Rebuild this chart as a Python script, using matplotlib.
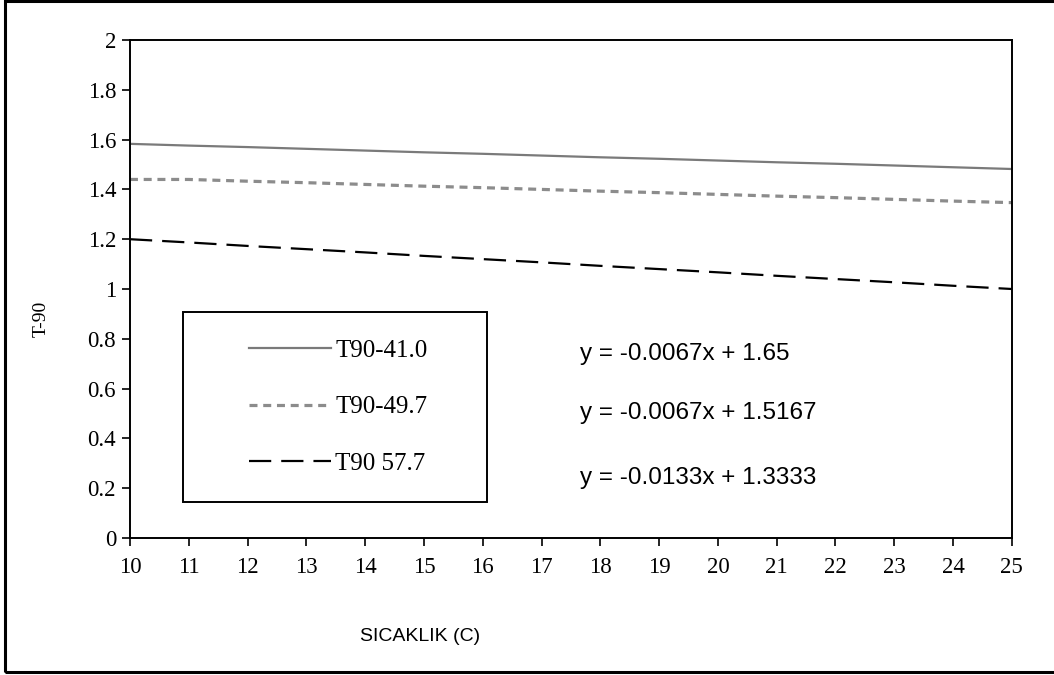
import numpy as np
import matplotlib
matplotlib.use("Agg")
import matplotlib.pyplot as plt
from matplotlib.patches import Rectangle

# temperature (C) and T-90 values
sicaklik = [10, 11, 12, 13, 14, 15, 16, 17, 18, 19, 20, 21, 22, 23, 24, 25]
t90_410 = [1.583, 1.576, 1.570, 1.563, 1.556, 1.549, 1.543, 1.536,
           1.529, 1.523, 1.516, 1.509, 1.503, 1.496, 1.489, 1.482]
t90_497 = [1.440, 1.440, 1.433, 1.427, 1.420, 1.413, 1.407, 1.400,
           1.393, 1.387, 1.380, 1.373, 1.367, 1.360, 1.353, 1.347]
t90_577 = [1.200, 1.187, 1.173, 1.160, 1.147, 1.133, 1.120, 1.107,
           1.093, 1.080, 1.067, 1.053, 1.040, 1.027, 1.013, 1.000]

labels = ["T90-41.0", "T90-49.7", "T90 57.7"]
equations = ["y = -0.0067x + 1.65", "y = -0.0067x + 1.5167", "y = -0.0133x + 1.3333"]
y_ticks = [0, 0.2, 0.4, 0.6, 0.8, 1, 1.2, 1.4, 1.6, 1.8, 2]

serif = "Liberation Serif"
sans = "Liberation Sans"

fig = plt.figure(figsize=(10.54, 6.75), dpi=100)
ax = fig.add_axes([0.1233, 0.203, 0.8367, 0.7377])

l1, = ax.plot(sicaklik, t90_410, color="#7a7a7a", lw=1.6, linestyle="-")
l2, = ax.plot(sicaklik, t90_497, color="#8c8c8c", lw=2.3, linestyle=(0, (2.5, 1.8)))
l3, = ax.plot(sicaklik, t90_577, color="black", lw=1.6, linestyle=(0, (10, 4.5)))

ax.set_xlim(10, 25)
ax.set_ylim(0, 2)
ax.set_xticks(sicaklik)
ax.set_yticks(y_ticks)
ax.set_yticklabels([f"{v:g}" for v in y_ticks])
for lab in ax.get_xticklabels() + ax.get_yticklabels():
    lab.set_fontfamily(serif)
    lab.set_fontsize(16.5)
ax.tick_params(axis="both", direction="out", length=6, width=1.2)
ax.tick_params(axis="x", pad=8)
ax.tick_params(axis="y", pad=4)
for s in ax.spines.values():
    s.set_linewidth(1.4)

ax.set_ylabel("T-90", fontfamily=serif, fontsize=14)
ax.yaxis.set_label_coords(-0.091, 0.44)
ax.set_xlabel("SICAKLIK (C)", fontfamily=sans, fontsize=14)
ax.xaxis.set_label_coords(0.329, -0.181)

# legend box drawn by hand, legend itself without frame
ax.add_patch(Rectangle((0.060, 0.0723), 0.345, 0.382, transform=ax.transAxes,
                       fill=False, edgecolor="black", lw=1.4, zorder=5))
ax.legend([l1, l2, l3], labels, loc="center", bbox_to_anchor=(0.236, 0.263),
          frameon=False, prop={"family": serif, "size": 18},
          handlelength=3.3, handletextpad=0.15, labelspacing=1.35)

eq_y = [0.739, 0.502, 0.241]
for eq, yy in zip(equations, eq_y):
    ax.text(17.65, yy, eq, fontfamily=sans, fontsize=17.5, va="center", ha="left")

# outer frame around the whole figure (right edge falls outside the image)
fig.add_artist(Rectangle((0.005, 0.004), 1.0, 0.994, transform=fig.transFigure,
                         fill=False, edgecolor="black", lw=2.2))

fig.savefig("out.png", dpi=100)
